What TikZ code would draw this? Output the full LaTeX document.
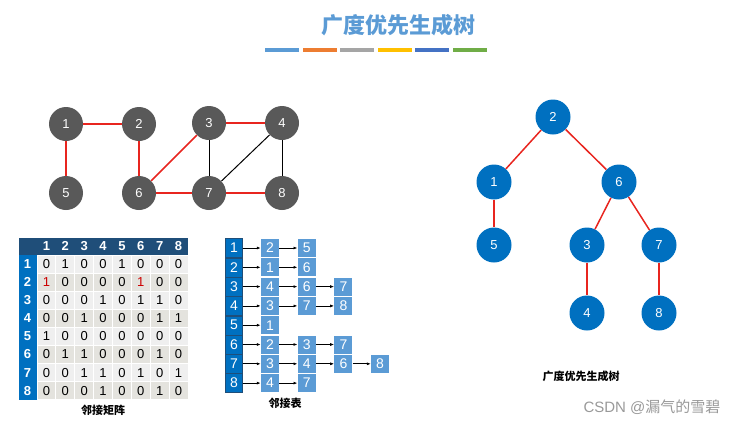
\documentclass[tikz,border=0pt]{standalone}
\usepackage{fontspec}
\setmainfont{Liberation Sans}
\newfontfamily\cjk{Noto Sans CJK SC}
\usetikzlibrary{arrows.meta}
\definecolor{gnode}{HTML}{595959}
\definecolor{tnode}{HTML}{0070C0}
\definecolor{redge}{HTML}{E8251F}
\definecolor{hdr}{HTML}{1F4E79}
\definecolor{lcol}{HTML}{0070C0}
\definecolor{lbox}{HTML}{5B9BD5}
\definecolor{celA}{HTML}{EFEFEF}
\definecolor{celB}{HTML}{E4E3DE}
\tikzset{
 gn/.style={circle,fill=gnode,text=white,minimum size=34pt,inner sep=0,font=\fontsize{13}{13}\selectfont},
 tn/.style={circle,fill=tnode,text=white,minimum size=35pt,inner sep=0,font=\fontsize{13}{13}\selectfont},
 re/.style={draw=redge,line width=1.5pt},
 be/.style={draw=black,line width=1pt},
 lb/.style={fill=lbox,text=white,minimum width=18pt,minimum height=18pt,inner sep=0,font=\fontsize{14}{14}\selectfont},
 hb/.style={fill=lcol,draw=hdr,text=white,minimum width=17pt,minimum height=19pt,inner sep=0,font=\fontsize{14}{14}\selectfont},
 ar/.style={-{Latex[length=4pt,width=3pt]},line width=0.8pt},
}
\begin{document}
\begin{tikzpicture}[x=1pt,y=-1pt]
\useasboundingbox (0,0) rectangle (755,426);
\node (title) at (398,25) {\cjk\bfseries\fontsize{22}{22}\selectfont\color{lbox}广度优先生成树};
\foreach \c [count=\i] in {5B9BD5,ED7D31,A5A5A5,FFC000,4472C4,70AD47}{
 \definecolor{bc}{HTML}{\c}
 \fill[bc] ({265+(\i-1)*37.5},48) rectangle ++(34,4);}
% left graph
\node[gn] (g1) at (66,124) {1};
\node[gn] (g2) at (139,124) {2};
\node[gn] (g3) at (209,123) {3};
\node[gn] (g4) at (282,123) {4};
\node[gn] (g5) at (66,193) {5};
\node[gn] (g6) at (139,193) {6};
\node[gn] (g7) at (209,193) {7};
\node[gn] (g8) at (282,193) {8};
\draw[re] (g1)--(g2); \draw[re] (g1)--(g5); \draw[re] (g2)--(g6);
\draw[re] (g3)--(g6); \draw[re] (g6)--(g7); \draw[re] (g7)--(g8); \draw[re] (g3)--(g4);
\draw[be] (g3)--(g7); \draw[be] (g4)--(g7); \draw[be] (g4)--(g8);
% tree
\node[tn] (t2) at (553,117) {2};
\node[tn] (t1) at (494,182) {1};
\node[tn] (t6) at (619,182) {6};
\node[tn] (t5) at (494,245) {5};
\node[tn] (t3) at (587,245) {3};
\node[tn] (t7) at (659,245) {7};
\node[tn] (t4) at (587,313) {4};
\node[tn] (t8) at (659,313) {8};
\draw[re] (t2)--(t1); \draw[re] (t2)--(t6); \draw[re] (t1)--(t5);
\draw[re] (t6)--(t3); \draw[re] (t6)--(t7); \draw[re] (t3)--(t4); \draw[re] (t7)--(t8);
\node (tlab) at (581,376) {\cjk\bfseries\fontsize{11}{11}\selectfont 广度优先生成树};
\node[text=gray!80] (wm) at (652,407) {\fontsize{15}{15}\selectfont CSDN @{\cjk 漏气的雪碧}};
% matrix
\fill[hdr] (18,237) rectangle (188,255);
\fill[lcol] (18,255) rectangle (37,400);
\foreach \r/\R in {1/{0,1,0,0,1,0,0,0},2/{1,0,0,0,0,1,0,0},3/{0,0,0,1,0,1,1,0},4/{0,0,1,0,0,0,1,1},5/{1,0,0,0,0,0,0,0},6/{0,1,1,0,0,0,1,0},7/{0,0,1,1,0,1,0,1},8/{0,0,0,1,0,0,1,0}}{
 \pgfmathsetmacro{\yy}{255+(\r-1)*18.1}
 \node[text=white,font=\bfseries\fontsize{13}{13}\selectfont] (rh\r) at (27.5,\yy+9) {\r};
 \node[text=white,font=\bfseries\fontsize{13}{13}\selectfont] (ch\r) at ({37+(\r-0.5)*18.875},246) {\r};
 \foreach \v [count=\c] in \R {
  \pgfmathsetmacro{\xx}{37+(\c-1)*18.875}
  \ifodd\r \def\cc{celA}\else\def\cc{celB}\fi
  \fill[\cc,draw=white,line width=0.8pt] (\xx,\yy) rectangle ++(18.875,18.1);
  \def\tc{black}
  \ifnum\r=2 \ifnum\v=1 \def\tc{red!80!black}\fi\fi
  \node[text=\tc,font=\fontsize{13}{13}\selectfont] at (\xx+9.4,\yy+9) {\v};
 }}
\draw[white,line width=0.8pt] (18,237) rectangle (188,400);
\node (mlab) at (103,410) {\cjk\bfseries\fontsize{11}{11}\selectfont 邻接矩阵};
% adjacency list
\foreach \r/\L in {1/{2,5},2/{1,6},3/{4,6,7},4/{3,7,8},5/{1},6/{2,3,7},7/{3,4,6,8},8/{4,7}}{
 \pgfmathsetmacro{\yy}{248+(\r-1)*19.3}
 \node[hb] (h\r) at (234,\yy) {\r};
 \xdef\prev{h\r}
 \foreach \e [count=\k] in \L {
  \node[lb] (n\r-\k) at ({270+(\k-1)*36.7},\yy) {\e};
  \draw[ar] (\prev) -- (n\r-\k);
  \xdef\prev{n\r-\k}
 }}
\node (llab) at (285,403) {\cjk\bfseries\fontsize{11}{11}\selectfont 邻接表};
\end{tikzpicture}
\end{document}
